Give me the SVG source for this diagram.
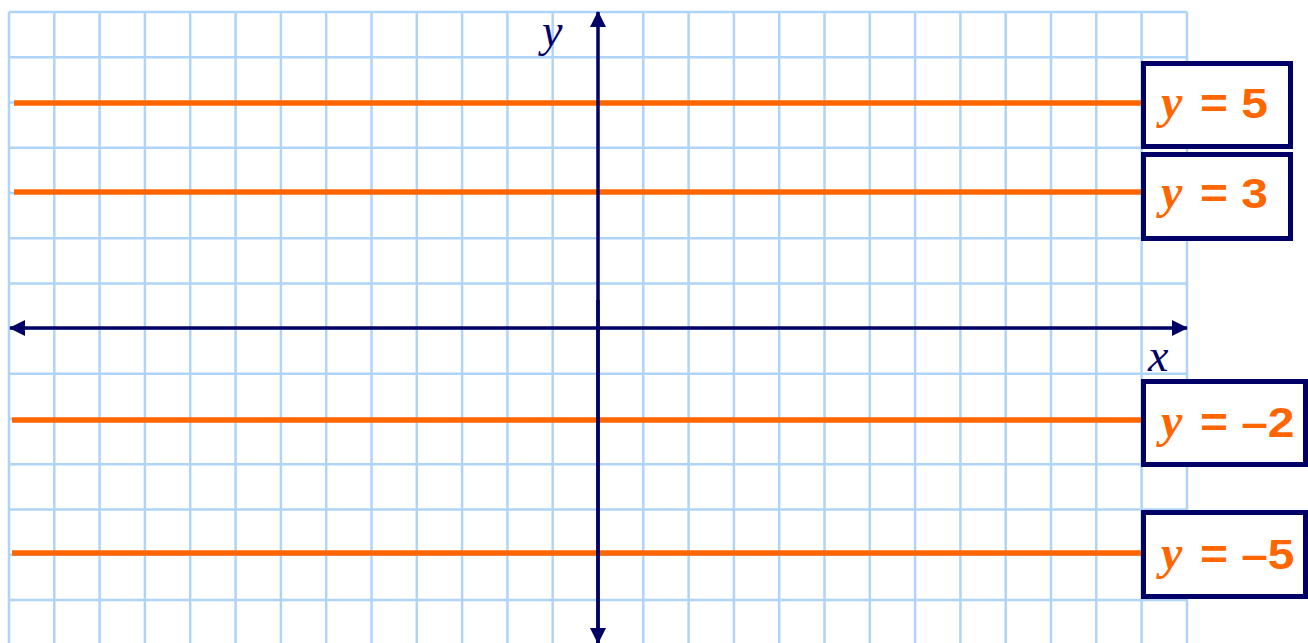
<svg xmlns="http://www.w3.org/2000/svg" width="1308" height="643" viewBox="0 0 1308 643">
<defs>
<style>
.grid line{stroke:#b0d4f8;stroke-width:2.5}
.axis{stroke:#000066;stroke-width:3.5;fill:none}
.hl{stroke:#ff6600;stroke-width:5.5}
.box{fill:#fff;stroke:#000066;stroke-width:5}
.var{font-family:"Liberation Serif",serif;font-style:italic;font-size:46px}
.bv{font-family:"Liberation Serif",serif;font-style:italic;font-weight:bold;font-size:48px;fill:#ff6600}
.num{font-family:"Liberation Sans",Arial,sans-serif;font-weight:bold;font-size:42px;fill:#ff6600}
</style>
<marker id="ah" viewBox="0 0 16 16" refX="15" refY="8" markerWidth="16" markerHeight="16" markerUnits="userSpaceOnUse" orient="auto">
<path d="M0,0 L16,8 L0,16 Z" fill="#000066"/>
</marker>
</defs>
<rect width="1308" height="643" fill="#fff"/>
<g class="grid" id="grid">
<line x1="9" y1="12" x2="9" y2="643"/><line x1="54.3" y1="12" x2="54.3" y2="643"/><line x1="99.6" y1="12" x2="99.6" y2="643"/><line x1="144.9" y1="12" x2="144.9" y2="643"/><line x1="190.2" y1="12" x2="190.2" y2="643"/><line x1="235.6" y1="12" x2="235.6" y2="643"/><line x1="280.9" y1="12" x2="280.9" y2="643"/><line x1="326.2" y1="12" x2="326.2" y2="643"/><line x1="371.5" y1="12" x2="371.5" y2="643"/><line x1="416.8" y1="12" x2="416.8" y2="643"/><line x1="462.1" y1="12" x2="462.1" y2="643"/><line x1="507.4" y1="12" x2="507.4" y2="643"/><line x1="552.7" y1="12" x2="552.7" y2="643"/><line x1="598" y1="12" x2="598" y2="643"/><line x1="643.3" y1="12" x2="643.3" y2="643"/><line x1="688.6" y1="12" x2="688.6" y2="643"/><line x1="733.9" y1="12" x2="733.9" y2="643"/><line x1="779.2" y1="12" x2="779.2" y2="643"/><line x1="824.5" y1="12" x2="824.5" y2="643"/><line x1="869.8" y1="12" x2="869.8" y2="643"/><line x1="915.1" y1="12" x2="915.1" y2="643"/><line x1="960.4" y1="12" x2="960.4" y2="643"/><line x1="1005.7" y1="12" x2="1005.7" y2="643"/><line x1="1051" y1="12" x2="1051" y2="643"/><line x1="1096.3" y1="12" x2="1096.3" y2="643"/><line x1="1141.6" y1="12" x2="1141.6" y2="643"/><line x1="1187" y1="12" x2="1187" y2="643"/>
<line x1="9" y1="12" x2="1187" y2="12"/><line x1="9" y1="57.2" x2="1187" y2="57.2"/><line x1="9" y1="102.5" x2="1187" y2="102.5"/><line x1="9" y1="147.7" x2="1187" y2="147.7"/><line x1="9" y1="192.9" x2="1187" y2="192.9"/><line x1="9" y1="238.2" x2="1187" y2="238.2"/><line x1="9" y1="283.4" x2="1187" y2="283.4"/><line x1="9" y1="328.6" x2="1187" y2="328.6"/><line x1="9" y1="373.8" x2="1187" y2="373.8"/><line x1="9" y1="419.1" x2="1187" y2="419.1"/><line x1="9" y1="464.3" x2="1187" y2="464.3"/><line x1="9" y1="509.5" x2="1187" y2="509.5"/><line x1="9" y1="554.8" x2="1187" y2="554.8"/><line x1="9" y1="600" x2="1187" y2="600"/>
</g>
<g id="connectors">
<line class="hl" x1="14" y1="103" x2="1142" y2="103"/>
<line class="hl" x1="14" y1="192" x2="1142" y2="192"/>
<line class="hl" x1="12" y1="420" x2="1142" y2="420"/>
<line class="hl" x1="12" y1="553" x2="1142" y2="553"/>
<line class="axis" x1="598" y1="643" x2="598" y2="12" marker-end="url(#ah)"/>
<line class="axis" x1="598" y1="300" x2="598" y2="643" marker-end="url(#ah)"/>
<line class="axis" x1="598" y1="328" x2="10" y2="328" marker-end="url(#ah)"/>
<line class="axis" x1="598" y1="328" x2="1187" y2="328" marker-end="url(#ah)"/>
</g>
<g id="axis-labels">
<text class="var" x="542" y="46" fill="#000066">y</text>
<text class="var" x="1148" y="371" fill="#000066">x</text>
</g>
<g id="label-y5">
<rect class="box" x="1143.5" y="63.5" width="147" height="83"/>
<text class="bv" x="1161" y="118">y</text>
<text class="num" transform="translate(1200,118) scale(1.14,1)">= 5</text>
</g>
<g id="label-y3">
<rect class="box" x="1143.5" y="154.5" width="147" height="84"/>
<text class="bv" x="1161" y="208">y</text>
<text class="num" transform="translate(1200,208) scale(1.14,1)">= 3</text>
</g>
<g id="label-ym2">
<rect class="box" x="1143.5" y="381.5" width="162" height="83"/>
<text class="bv" x="1161" y="437">y</text>
<text class="num" transform="translate(1200,437) scale(1.14,1)">= –2</text>
</g>
<g id="label-ym5">
<rect class="box" x="1143.5" y="512.5" width="162" height="84"/>
<text class="bv" x="1161" y="569">y</text>
<text class="num" transform="translate(1200,569) scale(1.14,1)">= –5</text>
</g>
</svg>
